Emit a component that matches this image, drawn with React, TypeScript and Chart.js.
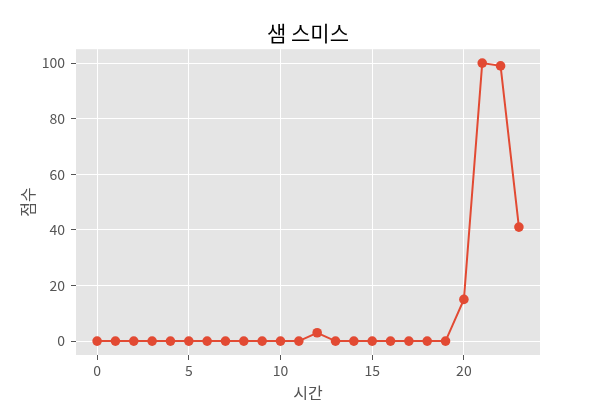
import React, { useEffect, useRef } from "react";
import { Chart, registerables } from "chart.js";

Chart.register(...registerables);

const hours: number[] = [0, 1, 2, 3, 4, 5, 6, 7, 8, 9, 10, 11, 12, 13, 14, 15, 16, 17, 18, 19, 20, 21, 22, 23];
const scores: number[] = [0, 0, 0, 0, 0, 0, 0, 0, 0, 0, 0, 0, 3, 0, 0, 0, 0, 0, 0, 0, 15, 100, 99, 41];
const xTicks: number[] = [0, 5, 10, 15, 20];
const yTicks: number[] = [0, 20, 40, 60, 80, 100];
const titleText = "샘 스미스";
const xLabel = "시간";
const yLabel = "점수";

const FONT = "'Noto Sans CJK KR', 'DejaVu Sans', sans-serif";

export default function App() {
  const ref = useRef<HTMLCanvasElement | null>(null);
  useEffect(() => {
    document.body.style.margin = "0";
    const ctx = ref.current!;
    const chart = new Chart(ctx, {
      type: "line",
      data: {
        datasets: [
          {
            data: hours.map((h, i) => ({ x: h, y: scores[i] })),
            borderColor: "#E24A33",
            backgroundColor: "#E24A33",
            borderWidth: 2,
            pointRadius: 4.8,
            pointHoverRadius: 4.8,
            pointBorderWidth: 0,
            tension: 0,
          },
        ],
      },
      options: {
        responsive: false,
        animation: false,
        layout: { padding: { left: 0, right: 60, top: 0, bottom: 0 } },
        plugins: {
          legend: { display: false },
          tooltip: { enabled: false },
          title: {
            display: true,
            text: titleText,
            fullSize: false,
            color: "#000000",
            font: { family: FONT, size: 21, weight: "normal" },
            padding: { top: 20, bottom: 4 },
          },
        },
        scales: {
          x: {
            type: "linear",
            min: -1.15,
            max: 24.15,
            afterBuildTicks: (s: any) => {
              s.ticks = xTicks.map((v) => ({ value: v }));
            },
            afterFit: (s: any) => {
              s.height = 45;
            },
            border: { display: false },
            grid: { color: "#FFFFFF", lineWidth: 1, tickColor: "#555555", tickLength: 5, drawTicks: true },
            ticks: { color: "#555555", font: { family: FONT, size: 14 }, padding: 2, maxRotation: 0 },
            title: {
              display: true,
              text: xLabel,
              color: "#555555",
              font: { family: FONT, size: 16 },
              padding: { top: 0, bottom: -3 },
            },
          },
          y: {
            type: "linear",
            min: -5,
            max: 105,
            afterBuildTicks: (s: any) => {
              s.ticks = yTicks.map((v) => ({ value: v }));
            },
            afterFit: (s: any) => {
              s.width = 76;
            },
            border: { display: false },
            grid: { color: "#FFFFFF", lineWidth: 1, tickColor: "#555555", tickLength: 5, drawTicks: true },
            ticks: { color: "#555555", font: { family: FONT, size: 14 }, padding: 6 },
            title: {
              display: true,
              text: yLabel,
              color: "#555555",
              font: { family: FONT, size: 16 },
              padding: { top: 18, bottom: 0 },
            },
          },
        },
      },
      plugins: [
        {
          id: "bg",
          beforeDraw: (c: any) => {
            const a = c.chartArea;
            const g = c.ctx;
            g.save();
            g.fillStyle = "#E5E5E5";
            g.fillRect(a.left, a.top, a.right - a.left, a.bottom - a.top);
            g.restore();
          },
        },
      ],
    });
    return () => chart.destroy();
  }, []);
  return (
    <div style={{ width: 600, height: 400, background: "#FFFFFF" }}>
      <canvas ref={ref} width={600} height={400} />
    </div>
  );
}
